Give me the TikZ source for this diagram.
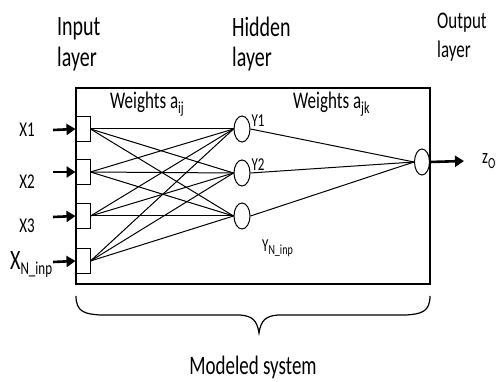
\documentclass[tikz,border=0pt]{standalone}
\usepackage{fontspec}
\setmainfont{Carlito}
\usetikzlibrary{arrows.meta,shapes.geometric}

% lowered, smaller text used for the index letters
\newcommand\lowtxt[3]{\raisebox{-#1pt}{\fontsize{#2}{#2}\selectfont #3}}
\newcommand\fsz[1]{\fontsize{#1}{#1}\selectfont}
% narrow, tall lettering
\newcommand\tall[1]{\scalebox{1}[1.4]{#1}}

\begin{document}
\begin{tikzpicture}[x=1pt,y=-1pt,
  inunit/.style={draw,line width=1pt,minimum width=14pt,minimum height=25pt,inner sep=0pt},
  hidunit/.style={draw,ellipse,line width=1pt,minimum width=16pt,minimum height=26pt,inner sep=0pt},
  link/.style={line width=1pt},
  feed/.style={line width=2.6pt,-{Triangle[length=9pt,width=11pt]}},
  head/.style={font=\fsz{20},inner sep=0pt,anchor=base west},
  small/.style={font=\fsz{15},inner sep=0pt},
  frame/.style={line width=1.8pt},
  bracepath/.style={line width=1.2pt}]
\useasboundingbox (0,0) rectangle (496,382);
\clip (0,0) rectangle (496,382);

% layer titles
\node[head] (tin1) at (57,36) {\tall{Input}};
\node[head] (tin2) at (57,67) {\tall{layer}};
\node[head] (thid1) at (232,37) {\tall{Hidden}};
\node[head] (thid2) at (232,67) {\tall{layer}};
\node[head,font=\fsz{17}] (tout1) at (437,29) {\tall{Output}};
\node[head,font=\fsz{17}] (tout2) at (437,58) {\tall{layer}};

% system frame
\draw[frame] (76,88) rectangle (430,284);

% weight labels
\node[head,font=\fsz{17}] (wij) at (110,109) {\tall{Weights a\lowtxt{3}{12}{ij}}};
\node[head,font=\fsz{17}] (wjk) at (293,109) {\tall{Weights a\lowtxt{3}{12}{jk}}};

% input units
\node[inunit] (i1) at (83,129) {};
\node[inunit] (i2) at (83,172) {};
\node[inunit] (i3) at (83,216) {};
\node[inunit] (i4) at (83,261) {};

% hidden units
\node[hidunit] (h1) at (242,129) {};
\node[hidunit] (h2) at (242,173) {};
\node[hidunit] (h3) at (242,216) {};

% output unit
\node[hidunit,minimum width=15pt] (o) at (422,162) {};

% input -> hidden connections
\foreach \a in {1,2,3,4}
  \foreach \b in {1,2,3}
    \draw[link] (i\a.east) -- (h\b.west);

% hidden -> output connections
\foreach \b in {1,2,3}
  \draw[link] (h\b.east) -- (o.west);

% external inputs
\coordinate (s1) at (53,130);
\coordinate (s2) at (53,172);
\coordinate (s3) at (53,217);
\coordinate (s4) at (53,262);
\foreach \a in {1,2,3,4}
  \draw[feed] (s\a) -- (i\a.west);

% output
\coordinate (zend) at (464,161);
\draw[feed] (o.east) -- (zend);

% input names
\node[small] (x1) at (27,130) {\tall{X1}};
\node[small] (x2) at (27,182) {\tall{X2}};
\node[small] (x3) at (27,226) {\tall{X3}};
\node[inner sep=0pt,anchor=base west,font=\fsz{20}] (xn) at (10,270) {\tall{X\lowtxt{3}{13}{N\_inp}}};

% hidden names
\node[inner sep=0pt,font=\fsz{13}] (y1) at (258,121) {\tall{Y1}};
\node[inner sep=0pt,font=\fsz{13}] (y2) at (258,165) {\tall{Y2}};
\node[inner sep=0pt,anchor=base west,font=\fsz{13}] (yn) at (262,252) {\tall{Y\lowtxt{2}{10}{N\_inp}}};

% output name
\node[inner sep=0pt,anchor=base west,font=\fsz{15}] (zo) at (482,164) {\tall{z\lowtxt{3}{11}{Out}}};

% brace under the system
\draw[bracepath] (76,296) .. controls (76,312) and (85,314) .. (100,315) -- (240,315)
  .. controls (252,316) and (257,320) .. (259,333)
  .. controls (261,320) and (266,316) .. (278,315) -- (406,315)
  .. controls (421,314) and (430,312) .. (430,296);

\node[inner sep=0pt,font=\fsz{19}] (sys) at (253,367) {\tall{Modeled system}};
\end{tikzpicture}
\end{document}
